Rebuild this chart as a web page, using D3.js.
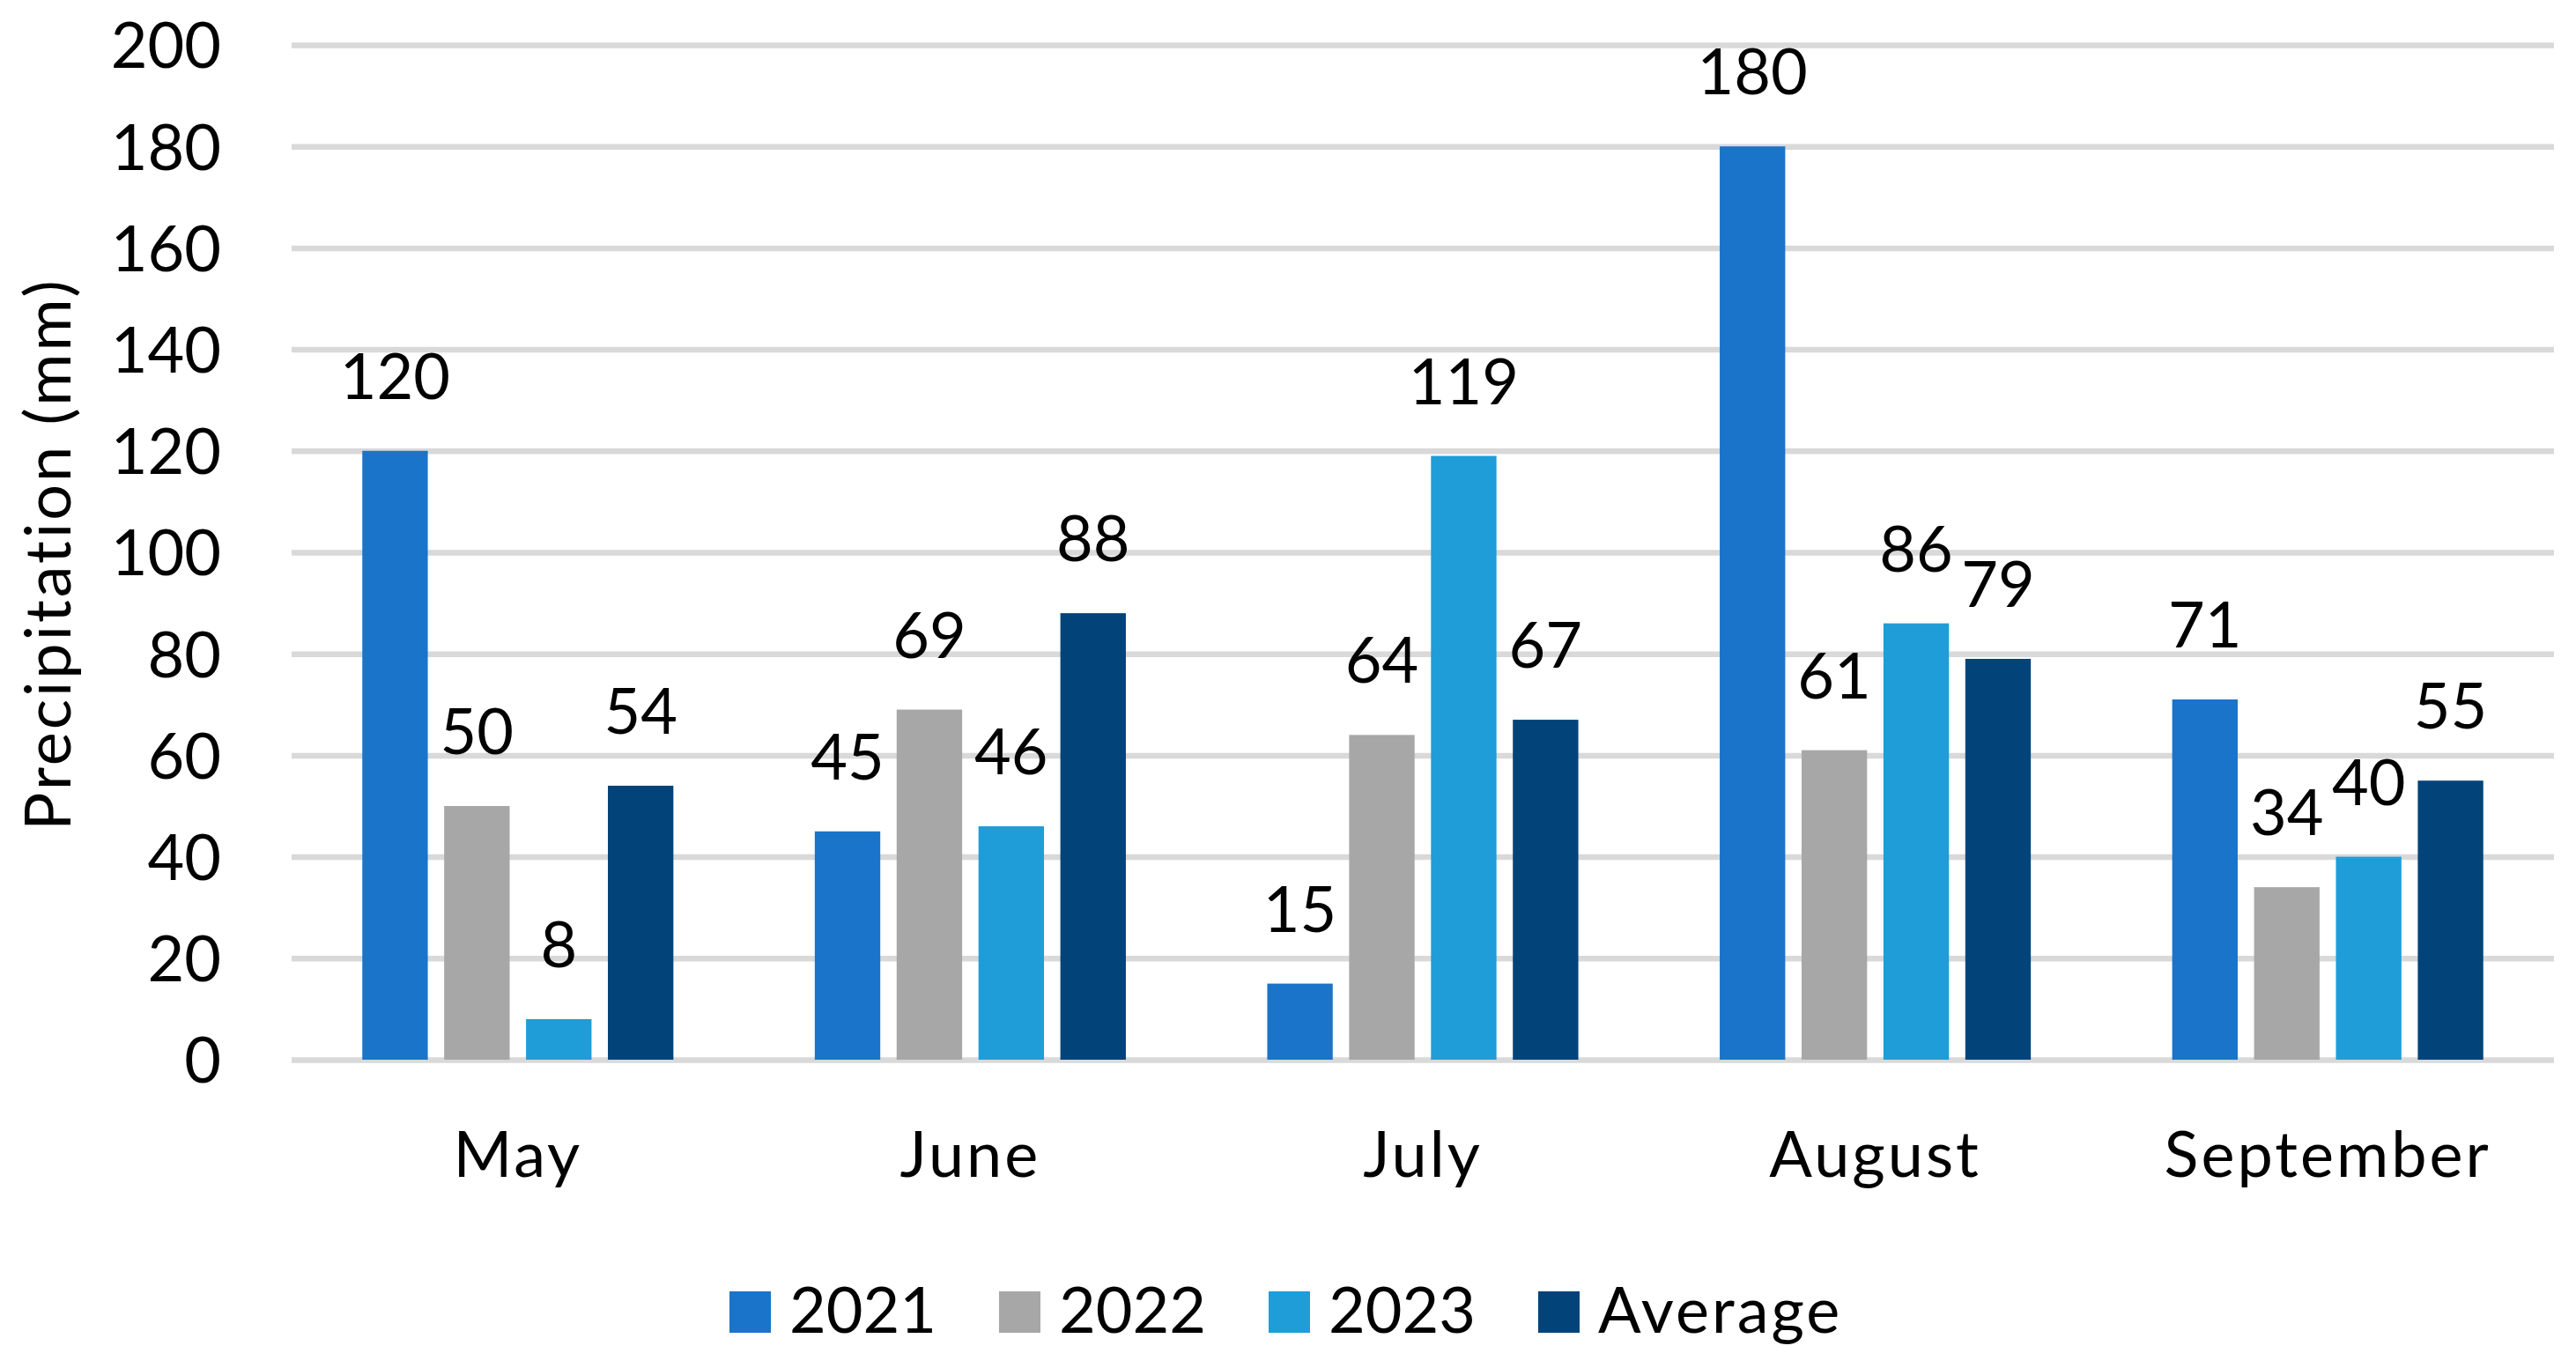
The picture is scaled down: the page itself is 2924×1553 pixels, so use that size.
<!DOCTYPE html>
<html>
<head>
  <meta charset="UTF-8" />
  <title>Precipitation by month</title>
  <script src="https://d3js.org/d3.v7.min.js"></script>
  <style>
    body { margin: 0; background: #fff; }
    text { font-family: Lato, "Open Sans", sans-serif; font-size: 72px; fill: #000; }
    .grid line { stroke: #d9d9d9; stroke-width: 6.5px; }
    .grid .domain, .xaxis .domain { display: none; }
    .xaxis text, .title, .legend text.word { letter-spacing: 3px; }
  </style>
</head>
<body>
  <svg id="chart" width="2924" height="1553"></svg>
  <script>
    // values
    const months = ["May", "June", "July", "August", "September"];
    const series = ["2021", "2022", "2023", "Average"];
    const colors = ["#1a74c9", "#a7a7a7", "#1e9dd9", "#02437a"];
    const v2021 = [120, 45, 15, 180, 71];
    const v2022 = [50, 69, 64, 61, 34];
    const v2023 = [8, 46, 119, 86, 40];
    const vAverage = [54, 88, 67, 79, 55];
    const yTicks = [0, 20, 40, 60, 80, 100, 120, 140, 160, 180, 200];

    const values = [v2021, v2022, v2023, vAverage];
    const rows = [];
    months.forEach((m, i) => {
      series.forEach((s, j) => rows.push({ month: m, series: s, value: values[j][i], color: colors[j] }));
    });

    const plotLeft = 331, plotRight = 2899, plotTop = 51, plotBottom = 1203;
    const svg = d3.select("#chart");

    const x0 = d3.scaleBand().domain(months).range([plotLeft, plotRight])
      .paddingInner(0.3125).paddingOuter(0.15625);
    const x1 = d3.scaleBand().domain(series).range([0, x0.bandwidth()]).paddingInner(0.2);
    const y = d3.scaleLinear().domain([0, 200]).range([plotBottom, plotTop]);

    // gridlines + y tick labels
    const ga = svg.append("g")
      .attr("class", "grid")
      .attr("transform", `translate(${plotLeft},0)`)
      .call(d3.axisLeft(y).tickValues(yTicks).tickSize(-(plotRight - plotLeft)).tickPadding(80));
    ga.selectAll("text").attr("dy", "0.36em");

    // bars
    svg.append("g").selectAll("rect")
      .data(rows)
      .join("rect")
      .attr("x", d => x0(d.month) + x1(d.series))
      .attr("y", d => y(d.value))
      .attr("width", x1.bandwidth())
      .attr("height", d => y(0) - y(d.value))
      .attr("fill", d => d.color);

    // data labels
    svg.append("g").selectAll("text")
      .data(rows)
      .join("text")
      .attr("x", d => x0(d.month) + x1(d.series) + x1.bandwidth() / 2)
      .attr("y", d => y(d.value) - 59)
      .attr("text-anchor", "middle")
      .text(d => d.value);

    // category axis
    const xa = svg.append("g")
      .attr("class", "xaxis")
      .attr("transform", `translate(0,${plotBottom})`)
      .call(d3.axisBottom(x0).tickSize(0));
    xa.selectAll("text").attr("y", 133).attr("dy", 0);

    // y axis title
    svg.append("text")
      .attr("class", "title")
      .attr("transform", `translate(80,${(plotTop + plotBottom) / 2 + 2}) rotate(-90)`)
      .attr("text-anchor", "middle")
      .text("Precipitation (mm)");

    // legend
    const legend = svg.append("g").attr("class", "legend");
    const items = legend.selectAll("g")
      .data(series)
      .join("g")
      .attr("transform", (d, i) => `translate(${828 + i * 306},1466)`);
    items.append("rect")
      .attr("width", 47).attr("height", 47)
      .attr("fill", (d, i) => colors[i]);
    items.append("text")
      .attr("class", d => isNaN(+d) ? "word" : null)
      .attr("x", 68).attr("y", 47)
      .text(d => d);
  </script>
</body>
</html>
